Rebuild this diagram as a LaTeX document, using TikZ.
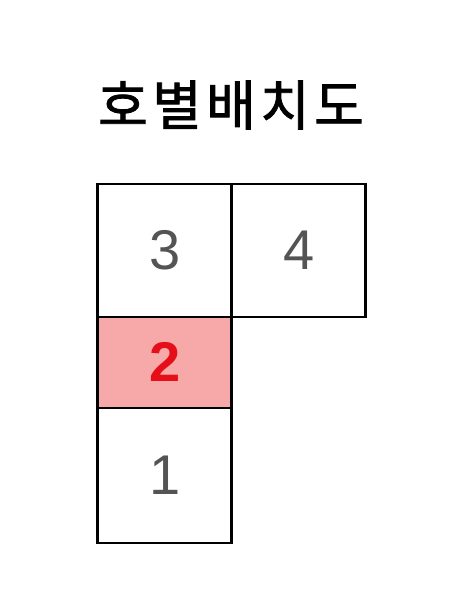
\documentclass[tikz,border=0pt]{standalone}
\usepackage{fontspec}
\setmainfont{Liberation Sans}
\newfontfamily\krfont[LetterSpace=8, FakeBold=1.5]{Noto Sans CJK KR}
\usepackage{tikz}
\usetikzlibrary{positioning}
\definecolor{cellgrey}{rgb}{0.33, 0.33, 0.33}
\definecolor{housepink}{rgb}{0.97, 0.66, 0.66}
\definecolor{housered}{rgb}{0.90, 0.06, 0.10}
\tikzset{
  house/.style={draw=black, line width=2.6pt, inner sep=0pt, outer sep=0pt,
    minimum width=134pt, font=\fontsize{56}{56}\selectfont, text=cellgrey},
}

\begin{document}
\begin{tikzpicture}[x=1pt, y=-1pt]
\useasboundingbox (0,0) rectangle (464,600);
\node (title) at (231,105) {\krfont\fontsize{54}{54}\selectfont 호별배치도};
\node [house, minimum height=133pt] (h3) at (164.6,250.3) {3};
\node [house, minimum height=133pt, anchor=west] (h4) at (h3.east) {4};
\node [house, minimum height=91pt, anchor=north, fill=housepink, text=housered, font=\fontsize{56}{56}\selectfont\bfseries] (h2) at (h3.south) {2};
\node [house, minimum height=135pt, anchor=north] (h1) at (h2.south) {1};
\end{tikzpicture}
\end{document}
